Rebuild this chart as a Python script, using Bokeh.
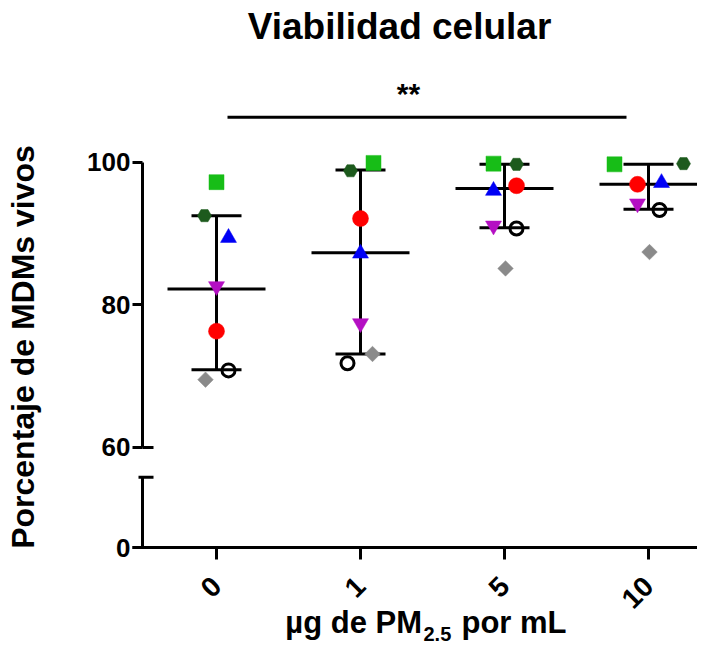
import math
from bokeh.plotting import figure
from bokeh.models import Range1d, FixedTicker, Label, ColumnDataSource, LinearAxis
from bokeh.embed import file_html
from bokeh.resources import INLINE

# ---------------- data ----------------
categories = ["0", "1", "5", "10"]            # µg de PM2.5 por mL
y_tick_values = [0, 60, 80, 100]
donor_square = [97.2, 99.9, 99.8, 99.7]       # bright green square
donor_hex = [92.5, 98.8, 99.7, 99.8]          # dark green hexagon
donor_triangle = [89.4, 87.2, 96.0, 97.1]     # blue triangle
donor_invtri = [82.6, 77.4, 91.1, 94.2]       # magenta inverted triangle
donor_circle = [76.3, 92.1, 96.7, 96.9]       # red circle
donor_open = [70.8, 71.8, 90.7, 93.3]         # open black circle
donor_diamond = [69.5, 73.1, 85.1, 87.4]      # grey diamond
mean_values = [82.2, 87.3, 96.3, 96.9]
sd_lower = [70.9, 73.1, 90.8, 93.4]
sd_upper = [92.5, 98.9, 99.7, 99.7]
significance = "**"

# ---------------- layout (pixels) ----------------
W, H = 697, 647
X_PX = 144.0          # px per category
X0 = 216.0            # px of first category
Y_PX = 7.13           # px per percentage unit
Y100 = 161.7          # px of 100 %

x_start = -X0 / X_PX
x_end = (W - X0) / X_PX
y_end = 100 + Y100 / Y_PX
y_start = y_end - H / Y_PX


def fx(px):
    return (px - X0) / X_PX


def fy(py):
    return y_end - py / Y_PX


zero_pos = fy(547)              # where the broken axis shows "0"
break_top = fy(476.7)           # top of the lower axis segment
ax_x = fx(142)                  # y axis position

# jitter offsets (px) per donor, per category
offsets = {
    "square": [0, 13, -11, -34],
    "hex": [-12, -10, 12, 35],
    "triangle": [12, 0, -11, 13],
    "invtri": [0, 0, -11, -11],
    "circle": [0, 0, 12, -11],
    "open": [12, -13, 12, 11],
    "diamond": [-11, 12, 1, 1],
}

FONT = "Liberation Sans"

p = figure(width=W, height=H,
           x_range=Range1d(x_start, x_end), y_range=Range1d(y_start, y_end),
           x_axis_type=None, y_axis_type=None,
           output_backend="svg", toolbar_location=None, min_border=0)
p.outline_line_color = None
p.grid.visible = False
p.background_fill_color = "white"


def style_axis(ax, size):
    ax.axis_line_width = 3
    ax.axis_line_color = "black"
    ax.major_tick_line_width = 3
    ax.major_tick_line_color = "black"
    ax.major_tick_in = 0
    ax.minor_tick_line_color = None
    ax.major_label_text_font = FONT
    ax.major_label_text_font_style = "bold"
    ax.major_label_text_font_size = size
    ax.major_label_text_color = "black"


# ---- x axis ----
xax = LinearAxis(ticker=FixedTicker(ticks=list(range(len(categories)))),
                 major_label_overrides={i: c for i, c in enumerate(categories)},
                 fixed_location=zero_pos, bounds=(fx(132), x_end))
style_axis(xax, "28px")
xax.major_tick_out = 12
xax.major_label_orientation = math.pi / 4
xax.major_label_standoff = 22
p.add_layout(xax, "below")

# ---- broken y axis: upper segment 60-100 ----
upper_ticks = [t for t in y_tick_values if t != 0]
yax_up = LinearAxis(ticker=FixedTicker(ticks=upper_ticks),
                    fixed_location=ax_x, bounds=(min(upper_ticks), max(upper_ticks)))
style_axis(yax_up, "26px")
yax_up.major_tick_out = 10
yax_up.major_label_standoff = 2
p.add_layout(yax_up, "left")

# ---- lower segment 0 ----
yax_low = LinearAxis(ticker=FixedTicker(ticks=[zero_pos]),
                     major_label_overrides={zero_pos: str(y_tick_values[0])},
                     fixed_location=ax_x, bounds=(zero_pos - 0.01, break_top))
style_axis(yax_low, "26px")
yax_low.major_tick_out = 10
yax_low.major_label_standoff = 2
p.add_layout(yax_low, "left")

# end caps of the axis break
p.segment(x0=[fx(142), fx(138)], y0=[60, break_top], x1=[fx(153), fx(153)], y1=[60, break_top],
          line_color="black", line_width=3)

# ---- mean ± SD ----
CAP_HALF = 25 / X_PX
MEAN_HALF = 49 / X_PX
xs = list(range(len(categories)))
p.segment(x0=xs, y0=sd_lower, x1=xs, y1=sd_upper, line_color="black", line_width=3)
p.segment(x0=[x - CAP_HALF for x in xs], y0=sd_upper,
          x1=[x + CAP_HALF for x in xs], y1=sd_upper, line_color="black", line_width=3)
p.segment(x0=[x - CAP_HALF for x in xs], y0=sd_lower,
          x1=[x + CAP_HALF for x in xs], y1=sd_lower, line_color="black", line_width=3)
p.segment(x0=[x - MEAN_HALF for x in xs], y0=mean_values,
          x1=[x + MEAN_HALF for x in xs], y1=mean_values, line_color="black", line_width=3)

# ---- significance bar ----
p.segment(x0=[fx(227)], y0=[fy(116.7)], x1=[fx(626)], y1=[fy(116.7)],
          line_color="black", line_width=3)

# ---- donors ----
series = [
    ("square", donor_square, "square", 15, "#17bd17", None, 0, 0.0),
    ("hex", donor_hex, "hex", 14, "#1d5a1d", None, 0, 0.0),
    ("triangle", donor_triangle, "triangle", 16, "#0000f5", None, 0, 0.0),
    ("invtri", donor_invtri, "inverted_triangle", 16, "#b40fc3", None, 0, 0.0),
    ("circle", donor_circle, "circle", 16, "#ff0000", None, 0, 0.0),
    ("diamond", donor_diamond, "square", 11, "#8a8a8a", None, 0, math.pi / 4),
    ("open", donor_open, "circle", 13, None, "black", 3, 0.0),
]
for key, vals, marker, size, fill, line, lw, ang in series:
    src = ColumnDataSource(dict(
        x=[i + o / X_PX for i, o in enumerate(offsets[key])],
        y=vals,
    ))
    p.scatter("x", "y", source=src, marker=marker, size=size,
              fill_color=fill, line_color=line if line else fill,
              line_width=lw if lw else 0.5, angle=ang,
              fill_alpha=1.0 if fill else 0.0)


# ---- texts ----
def label(x, y, text, size, angle=0.0, align="center"):
    p.add_layout(Label(x=x, y=y, text=text, text_font=FONT, text_font_style="bold",
                       text_font_size=size, text_color="black", angle=angle,
                       text_align=align, text_baseline="middle"))


label(fx(399), fy(26.2), "Viabilidad celular", "37px")
label(fx(408), fy(92.6), significance, "30px")
label(fx(22.3), fy(346.5), "Porcentaje de MDMs vivos", "32px", angle=math.pi / 2)

# x-axis title with subscript
label(fx(421.5), fy(622), "µg de PM", "31px", align="right")
label(fx(423), fy(633), "2.5", "20px", align="left")
label(fx(461), fy(622), "por mL", "31px", align="left")

open("out.html", "w").write(file_html(p, INLINE))
